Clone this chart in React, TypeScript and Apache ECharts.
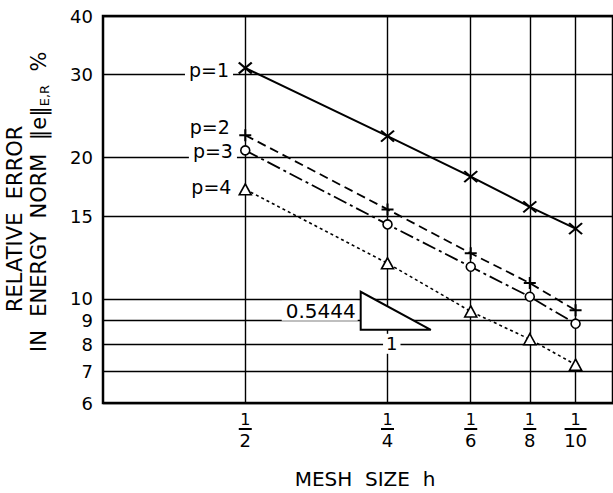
import React, { useEffect, useRef } from 'react';
import * as echarts from 'echarts';

// x: mesh size h = 1/N, plotted on a log axis of N (N grows to the right)
const meshDenominators = [2, 4, 6, 8, 10];
const yTickValues = [6, 7, 8, 9, 10, 15, 20, 30, 40];
const seriesLabels = ['p=1', 'p=2', 'p=3', 'p=4'];
const errP1 = [31.0, 22.2, 18.2, 15.7, 14.1];
const errP2 = [22.3, 15.5, 12.5, 10.8, 9.45];
const errP3 = [20.7, 14.4, 11.7, 10.1, 8.85];
const errP4 = [17.1, 11.9, 9.4, 8.2, 7.24];
const slopeTriX = [3.51, 3.51, 4.94];
const slopeTriY = [10.35, 8.59, 8.59];
const slopeRise = '0.5444';
const slopeRun = '1';
const yNameLine1 = 'RELATIVE  ERROR';
const yNameLine2 = 'IN  ENERGY  NORM  ‖e‖';
const yNameSub = 'E,R';
const xName = 'MESH  SIZE  h';

const FONT = '"DejaVu Sans", sans-serif';

export default function App() {
  const ref = useRef<HTMLDivElement>(null);
  useEffect(() => {
    if (!ref.current) return;
    const chart = echarts.init(ref.current, undefined, { renderer: 'svg' });

    const mk = (vals: number[]) => meshDenominators.map((n, i) => [n, vals[i]]);
    const crossPath = 'path://M0,0L12,12M12,0L0,12';
    const plusPath = 'path://M6,0L6,12M0,6L12,6';

    const labelOffsets = [[0, 2], [0, -8], [0, 1], [0, -2]];
    const firstLabel = (idx: number) => ({
      show: true,
      position: 'left',
      distance: 3,
      offset: labelOffsets[idx],
      formatter: seriesLabels[idx],
      color: '#000',
      fontSize: 19,
      fontFamily: FONT,
      backgroundColor: '#fff',
      padding: [0, 4, 0, 4],
    });
    const withLabel = (vals: number[], idx: number) =>
      mk(vals).map((d, i) => (i === 0 ? { value: d, label: firstLabel(idx) } : { value: d }));

    const option: any = {
      animation: false,
      backgroundColor: '#fff',
      grid: {
        left: 103,
        top: 16,
        right: -2,
        bottom: 90,
        show: true,
        borderColor: '#000',
        borderWidth: 2.5,
        containLabel: false,
      },
      xAxis: {
        type: 'log',
        logBase: 10,
        min: 1,
        max: 12,
        axisLine: { show: false },
        axisTick: { show: false, customValues: meshDenominators },
        splitLine: { show: true, lineStyle: { color: '#000', width: 1.4 } },
        axisLabel: {
          customValues: meshDenominators,
          margin: 8,
          formatter: (v: number) => `{n|1}\n{${v >= 10 ? 'bw' : 'b'}| }\n{d|${v}}`,
          rich: {
            n: { fontSize: 16, lineHeight: 17, fontFamily: FONT, color: '#000' },
            b: { fontSize: 2, lineHeight: 2, height: 2, width: 13, backgroundColor: '#000' },
            bw: { fontSize: 2, lineHeight: 2, height: 2, width: 22, backgroundColor: '#000' },
            d: { fontSize: 18, lineHeight: 21, fontFamily: FONT, color: '#000' },
          },
        },
      },
      yAxis: {
        type: 'log',
        logBase: 10,
        min: 6,
        max: 40,
        axisLine: { show: false },
        axisTick: { show: false, customValues: yTickValues },
        splitLine: { show: true, lineStyle: { color: '#000', width: 1.4 } },
        axisLabel: {
          customValues: yTickValues,
          margin: 10,
          fontSize: 18,
          fontFamily: FONT,
          color: '#000',
        },
      },
      graphic: [
        {
          type: 'text',
          x: 15,
          y: 312,
          rotation: Math.PI / 2,
          style: { text: yNameLine1, font: `21px ${FONT}`, fill: '#000', align: 'left', verticalAlign: 'middle' },
        },
        {
          type: 'text',
          x: 39,
          y: 352,
          rotation: Math.PI / 2,
          style: {
            text: `{m|${yNameLine2}}{s|${yNameSub}}{m|  %}`,
            align: 'left',
            verticalAlign: 'middle',
            rich: {
              m: { fontSize: 21, fontFamily: FONT, fill: '#000', lineHeight: 24, verticalAlign: 'middle' },
              s: { fontSize: 13, fontFamily: FONT, fill: '#000', lineHeight: 24, verticalAlign: 'bottom', padding: [10, 0, 0, 0] },
            },
          },
        },
        {
          type: 'text',
          x: 365,
          y: 479,
          style: { text: xName, font: `20px ${FONT}`, fill: '#000', align: 'center', verticalAlign: 'middle' },
        },
      ],
      series: [
        {
          type: 'line',
          data: withLabel(errP1, 0),
          symbol: crossPath,
          symbolSize: [13, 11],
          color: '#000',
          lineStyle: { color: '#000', width: 2, type: 'solid' },
          itemStyle: { color: 'none', borderColor: '#000', borderWidth: 2 },
          silent: true,
          z: 5,
        },
        {
          type: 'line',
          data: withLabel(errP2, 1),
          symbol: plusPath,
          symbolSize: 12,
          color: '#000',
          lineStyle: { color: '#000', width: 1.8, type: [9, 5] },
          itemStyle: { color: 'none', borderColor: '#000', borderWidth: 2 },
          silent: true,
          z: 5,
        },
        {
          type: 'line',
          data: withLabel(errP3, 2),
          symbol: 'circle',
          symbolSize: 9,
          color: '#000',
          lineStyle: { color: '#000', width: 1.8, type: [14, 4, 3, 4] },
          itemStyle: { color: '#fff', borderColor: '#000', borderWidth: 1.6 },
          silent: true,
          z: 5,
        },
        {
          type: 'line',
          data: withLabel(errP4, 3),
          symbol: 'triangle',
          symbolSize: [12, 11],
          color: '#000',
          lineStyle: { color: '#000', width: 1.6, type: [3, 3] },
          itemStyle: { color: '#fff', borderColor: '#000', borderWidth: 1.6 },
          silent: true,
          z: 5,
        },
        {
          type: 'custom',
          silent: true,
          clip: false,
          z: 4,
          data: [[slopeTriX[0], slopeTriY[0]]],
          renderItem: (_params: any, api: any) => {
            const pts = slopeTriX.map((x, i) => api.coord([x, slopeTriY[i]]));
            return {
              type: 'group',
              children: [
                {
                  type: 'polygon',
                  shape: { points: pts },
                  style: { fill: '#fff', stroke: '#000', lineWidth: 2 },
                },
                {
                  type: 'text',
                  x: pts[0][0] - 3,
                  y: (pts[0][1] + pts[1][1]) / 2,
                  style: {
                    text: slopeRise,
                    font: `20px ${FONT}`,
                    fill: '#000',
                    align: 'right',
                    verticalAlign: 'middle',
                    backgroundColor: '#fff',
                    padding: [0, 2, 0, 4],
                  },
                },
                {
                  type: 'text',
                  x: (pts[1][0] + pts[2][0]) / 2 - 4,
                  y: pts[1][1] + 14,
                  style: {
                    text: slopeRun,
                    font: `18px ${FONT}`,
                    fill: '#000',
                    align: 'center',
                    verticalAlign: 'middle',
                    backgroundColor: '#fff',
                    padding: [1, 3, 1, 3],
                  },
                },
              ],
            };
          },
        },
      ],
    };
    chart.setOption(option);
    return () => chart.dispose();
  }, []);

  return (
    <div
      ref={ref}
      style={{ position: 'fixed', left: 0, top: 0, width: 613, height: 493, background: '#fff' }}
    />
  );
}
